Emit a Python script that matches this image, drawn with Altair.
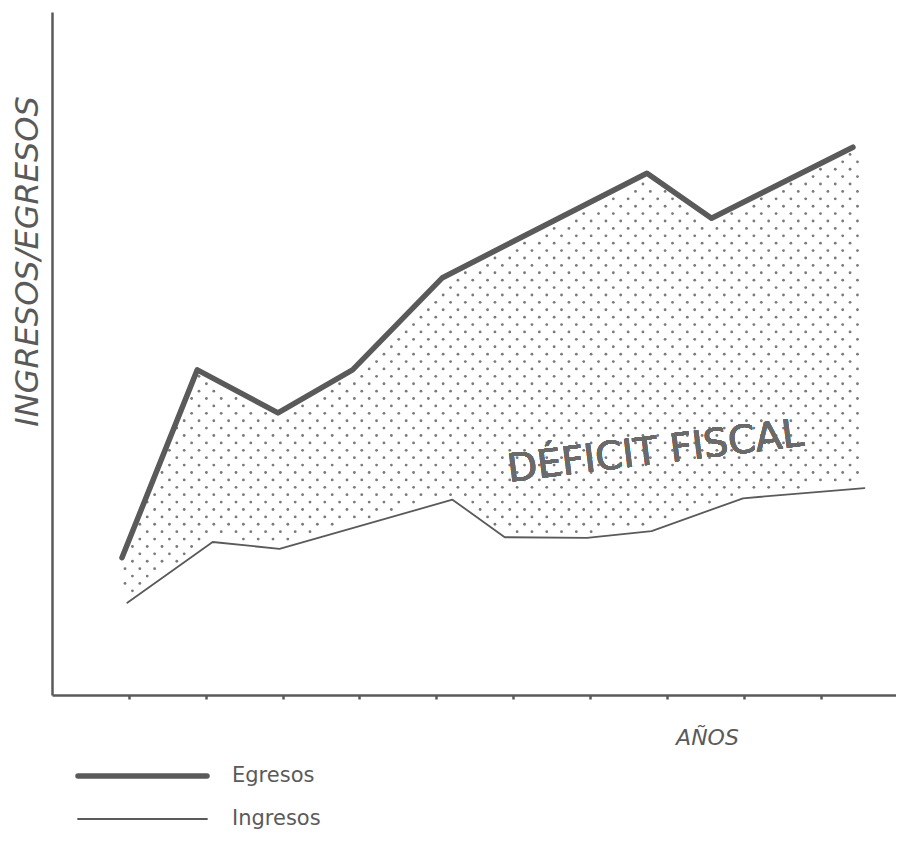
import altair as alt
import numpy as np
import pandas as pd

# ---- values (x = position in "años", y = amount) ----
egresos_x = [0.91, 1.89, 2.94, 3.91, 5.08, 7.74, 8.58, 10.42]
egresos_y = [20.1, 47.6, 41.3, 47.6, 61.1, 76.4, 69.8, 80.2]
ingresos_x = [0.98, 2.09, 2.96, 5.21, 5.89, 6.96, 7.80, 8.99, 10.57]
ingresos_y = [13.5, 22.4, 21.4, 28.6, 23.1, 23.0, 24.0, 28.8, 30.3]
anios_ticks = list(range(1, 12))
series = ["Egresos", "Ingresos"]

INK = "#5a5a5a"
FONT = "DejaVu Sans"
W, H = 844, 683

lines = pd.DataFrame(
    {
        "anio": egresos_x + ingresos_x,
        "valor": egresos_y + ingresos_y,
        "serie": [series[0]] * len(egresos_x) + [series[1]] * len(ingresos_x),
    }
)

# stipple texture for the deficit region (decoration only, a regular halftone screen)
dots = []
dx, dy = 0.1925, 1.083
for j, yv in enumerate(np.arange(12.0, 80.6, dy)):
    off = (j % 2) * dx / 2
    for xv in np.arange(0.95 + off, 10.56, dx):
        lo = np.interp(xv, ingresos_x, ingresos_y)
        hi = np.interp(xv, egresos_x, egresos_y)
        if lo + 0.8 < yv < hi - 0.8:
            dots.append({"anio": float(xv), "valor": float(yv)})
dots = pd.DataFrame(dots)

xscale = alt.Scale(domain=[0, 10.98], nice=False, zero=False)
yscale = alt.Scale(domain=[0, 100], nice=False, zero=False)

xaxis = alt.Axis(
    values=anios_ticks, labels=False, grid=False, title="AÑOS",
    domainColor=INK, domainWidth=2.5, tickColor=INK, tickWidth=2.5, tickSize=4,
    titleFont=FONT, titleFontSize=22, titleFontWeight="normal", titleFontStyle="italic",
    titleColor=INK, titleX=655, titleY=42, titleAnchor="middle",
    titleBaseline="middle", titleAlign="center", zindex=1,
)
yaxis = alt.Axis(
    labels=False, ticks=False, grid=False, title="INGRESOS/EGRESOS",
    domainColor=INK, domainWidth=2.5,
    titleFont=FONT, titleFontSize=32, titleFontWeight="normal", titleFontStyle="italic",
    titleColor=INK, titleX=-25, titleY=249, titleAngle=270,
    titleAlign="center", titleBaseline="middle", zindex=1,
)

stipple = alt.Chart(dots).mark_circle(size=8, color="#7a7a7a", opacity=1).encode(
    x=alt.X("anio:Q", scale=xscale, axis=xaxis),
    y=alt.Y("valor:Q", scale=yscale, axis=yaxis),
)

line_chart = alt.Chart(lines).mark_line(
    color=INK, strokeJoin="round", strokeCap="round"
).encode(
    x=alt.X("anio:Q", scale=xscale),
    y=alt.Y("valor:Q", scale=yscale),
    strokeWidth=alt.StrokeWidth(
        "serie:O", scale=alt.Scale(domain=series, range=[5.5, 1.8]), legend=None
    ),
)

label = alt.Chart(lines).mark_text(
    text="DÉFICIT FISCAL", angle=353, font=FONT, fontSize=39, color="#6a6a6a",
).encode(x=alt.datum(7.85), y=alt.datum(35.6))

# hand-drawn style key below the chart
key_df = pd.DataFrame({"serie": series})
key_layers = []
for i, (name, sw) in enumerate(zip(series, [5.5, 1.8])):
    ypix = 764 + i * 43
    sub = key_df[key_df["serie"] == name]
    key_layers.append(
        alt.Chart(sub).mark_rule(color=INK, strokeWidth=sw, strokeCap="round").encode(
            x=alt.value(26), x2=alt.value(155), y=alt.value(ypix)
        )
    )
    key_layers.append(
        alt.Chart(sub).mark_text(
            align="left", baseline="middle", font=FONT, fontSize=21, color=INK
        ).encode(x=alt.value(180), y=alt.value(ypix), text="serie:N")
    )

chart = (
    alt.layer(stipple, line_chart, label, *key_layers)
    .properties(
        width=W, height=H,
        autosize=alt.AutoSizeParams(type="none"),
        padding={"left": 44, "top": 4, "right": 0, "bottom": 137},
        background="white",
    )
    .configure_view(stroke=None)
)

chart.save("out.html", embed_options={"renderer": "svg", "actions": False})
